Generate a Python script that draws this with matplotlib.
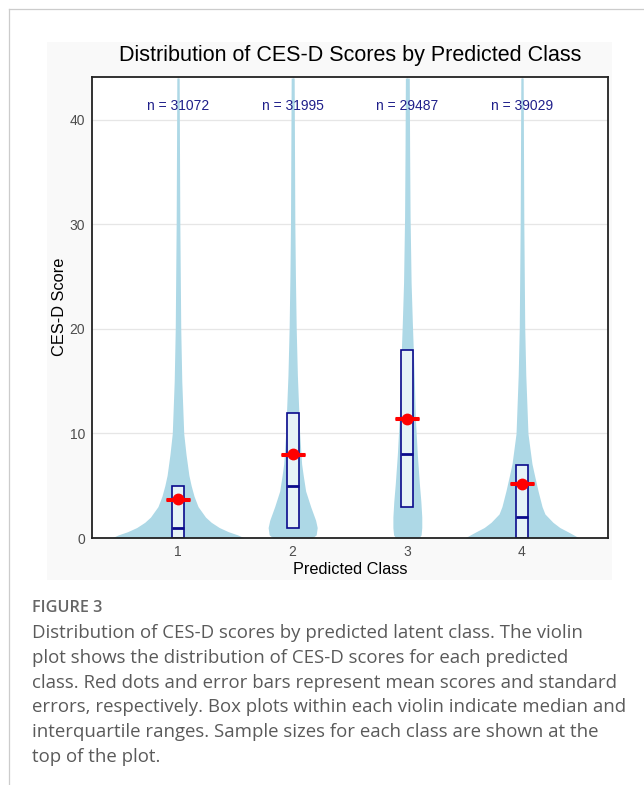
import matplotlib.pyplot as plt
import numpy as np
from matplotlib.lines import Line2D
from matplotlib.patches import Rectangle

# ---- data ----
classes = [1, 2, 3, 4]
n_labels = ["n = 31072", "n = 31995", "n = 29487", "n = 39029"]

# violin outline: score level -> half width (x units)
v1_y = [0, 0.3, 0.6, 1.0, 1.5, 2, 3, 4, 5, 6, 8, 10, 15, 20, 30, 44]
v1_w = [0.58, 0.52, 0.44, 0.36, 0.29, 0.24, 0.175, 0.14, 0.115, 0.095, 0.07, 0.05, 0.033, 0.024, 0.016, 0.010]
v2_y = [0, 0.3, 1.0, 1.7, 3, 4.5, 6, 7.1, 10, 15.6, 20, 25, 30, 44]
v2_w = [0.17, 0.205, 0.214, 0.20, 0.157, 0.113, 0.092, 0.078, 0.061, 0.041, 0.031, 0.024, 0.019, 0.013]
v3_y = [0, 0.3, 1, 2, 3.5, 5.2, 8, 11.5, 15, 18, 20.5, 24.4, 30.7, 37, 44]
v3_w = [0.10, 0.12, 0.126, 0.126, 0.118, 0.105, 0.087, 0.070, 0.061, 0.052, 0.044, 0.033, 0.024, 0.020, 0.017]
v4_y = [0, 0.3, 0.6, 1.0, 1.5, 2.3, 3, 4.5, 6, 7.1, 8.5, 10, 15.6, 20, 30, 44]
v4_w = [0.50, 0.45, 0.40, 0.33, 0.27, 0.20, 0.175, 0.14, 0.109, 0.087, 0.07, 0.052, 0.033, 0.024, 0.016, 0.010]

q1 = [0, 1, 3, 0]
medians = [1, 5, 8, 2]
q3 = [5, 12, 18, 7]
means = [3.7, 8.0, 11.4, 5.2]
se = [0.03, 0.04, 0.05, 0.03]

caption_head = "FIGURE 3"
caption_lines = [
    "Distribution of CES-D scores by predicted latent class. The violin",
    "plot shows the distribution of CES-D scores for each predicted",
    "class. Red dots and error bars represent mean scores and standard",
    "errors, respectively. Box plots within each violin indicate median and",
    "interquartile ranges. Sample sizes for each class are shown at the",
    "top of the plot.",
]

W, H = 644, 785
plt.rcParams['font.family'] = ['Liberation Sans', 'DejaVu Sans']
fig = plt.figure(figsize=(W / 100, H / 100), dpi=100)


def fx(px):
    return px / W


def fy(py):
    return 1 - py / H


# page frame + faint chart background
fig.add_artist(Line2D([fx(9), 1], [fy(9), fy(9)], color='#cccccc', lw=0.9))
fig.add_artist(Line2D([fx(9), fx(9)], [fy(9), 0], color='#cccccc', lw=0.9))
fig.add_artist(Rectangle((fx(47), fy(580)), fx(612) - fx(47), fy(42) - fy(580),
                         facecolor='#f9f9f9', edgecolor='none', zorder=0))

ax = fig.add_axes([fx(92), fy(538), fx(608) - fx(92), fy(77) - fy(538)])
ax.set_facecolor('white')

viol_y = [v1_y, v2_y, v3_y, v4_y]
viol_w = [v1_w, v2_w, v3_w, v4_w]
for c, ys, ws in zip(classes, viol_y, viol_w):
    ys = np.array(ys)
    ws = np.array(ws)
    ax.fill_betweenx(ys, c - ws, c + ws, color='#add8e6', lw=0, zorder=2)

stats = [dict(med=m, q1=a, q3=b, whislo=a, whishi=b) for m, a, b in zip(medians, q1, q3)]
ax.bxp(stats, positions=classes, widths=0.107, showcaps=False, showfliers=False,
       patch_artist=True, manage_ticks=False,
       boxprops=dict(facecolor=(1, 1, 1, 0.7), edgecolor='#0a0a8c', lw=1.2),
       medianprops=dict(color='#0a0a8c', lw=2),
       whiskerprops=dict(lw=0), zorder=3)

ax.errorbar(classes, means, yerr=se, fmt='o', color='#ff0000', ms=7.5,
            capsize=8.6, capthick=2.2, elinewidth=2, zorder=4)

for c, lab in zip(classes, n_labels):
    ax.text(c, 41.3, lab, ha='center', va='center', color='#1f1f8a', fontsize=10)

ax.set_xlim(0.25, 4.75)
ax.set_ylim(0, 44.1)
ax.set_xticks(classes)
ax.set_yticks([0, 10, 20, 30, 40])
ax.grid(True, color='#e6e6e6', lw=0.9)
ax.set_axisbelow(True)
ax.tick_params(length=0, labelsize=10, labelcolor='#4d4d4d', pad=5)
for s in ax.spines.values():
    s.set_color('#222222')
    s.set_linewidth(1.3)
    s.set_zorder(5)

fig.text(fx(350), fy(55), "Distribution of CES-D Scores by Predicted Class",
         ha='center', va='center', fontsize=15.5)
fig.text(fx(60), fy(307), "CES-D Score", rotation=90, ha='center', va='center', fontsize=11.8)
fig.text(fx(350), fy(569), "Predicted Class", ha='center', va='center', fontsize=11.7)

# caption
fig.text(fx(32), fy(608), caption_head, ha='left', va='center', fontsize=11.7,
         color='#666666', family=['Open Sans', 'DejaVu Sans'], weight='semibold')
for i, line in enumerate(caption_lines):
    fig.text(fx(32), fy(633 + 24.8 * i), line, ha='left', va='center', fontsize=13.4,
             color='#5a5a5a', family=['Open Sans', 'DejaVu Sans'])

fig.savefig('out.png', dpi=100)
